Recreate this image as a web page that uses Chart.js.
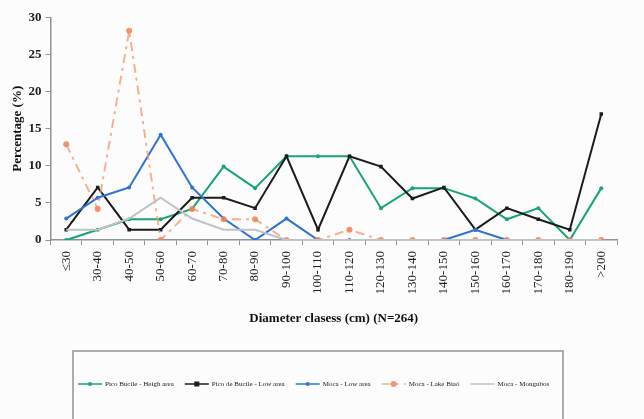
<!DOCTYPE html>
<html lang="en">
<head>
    <meta charset="UTF-8">
    <title>Diameter classes</title>
    <script src="https://cdn.jsdelivr.net/npm/chart.js@4.4.1/dist/chart.umd.min.js"></script>
    <style>
        html, body { margin: 0; padding: 0; background: #fcfcfd; }
        canvas { display: block; }
    </style>
</head>
<body>
    <canvas id="diamChart" width="644" height="419"></canvas>

    <script>
        // diameter classes (cm)
        const classes = ['≤30', '30-40', '40-50', '50-60', '60-70', '70-80', '80-90', '90-100', '100-110',
            '110-120', '120-130', '130-140', '140-150', '150-160', '160-170', '170-180', '180-190', '>200'];

        // percentage per class
        const picoHigh = [0, 1.4, 2.8, 2.8, 4.2, 9.9, 7.0, 11.3, 11.3, 11.3, 4.3, 7.0, 7.0, 5.6, 2.8, 4.3, 0, 7.0];
        const picoLow  = [1.4, 7.1, 1.4, 1.4, 5.7, 5.7, 4.3, 11.3, 1.4, 11.3, 9.9, 5.6, 7.1, 1.4, 4.3, 2.8, 1.4, 17.0];
        const mocaLow  = [2.9, 5.7, 7.1, 14.2, 7.1, 2.9, 0, 2.9, 0, 0, null, null, 0, 1.4, 0, null, null, null];
        const mocaLake = [12.9, 4.2, 28.2, 0, 4.2, 2.8, 2.8, 0, 0, 1.4, 0, 0, 0, 0, 0, 0, 0, 0];
        const mocaMong = [1.4, 1.4, 2.9, 5.7, 2.9, 1.4, 1.4, 0, 0, 0, 0, 0, 0, 0, 0, 0, 0, 0];

        const yTicks = [0, 5, 10, 15, 20, 25, 30];

        const serif = '"Liberation Serif", "Times New Roman", serif';

        // legend drawn inside a framed box under the chart, like the original
        const boxLegend = {
            id: 'boxLegend',
            afterDraw(chart) {
                const ctx = chart.ctx;
                ctx.save();
                ctx.strokeStyle = '#8d9398';
                ctx.lineWidth = 1.5;
                ctx.strokeRect(73, 351, 490, 80);

                ctx.font = '7px ' + serif;
                ctx.textBaseline = 'middle';
                let x = 78;
                const y = 384;
                chart.data.datasets.forEach(ds => {
                    ctx.strokeStyle = ds.borderColor;
                    ctx.lineWidth = 1.5;
                    ctx.setLineDash(ds.borderDash || []);
                    ctx.beginPath();
                    ctx.moveTo(x, y);
                    ctx.lineTo(x + 24, y);
                    ctx.stroke();
                    ctx.setLineDash([]);
                    if (ds.pointRadius > 0) {
                        ctx.fillStyle = ds.pointBackgroundColor;
                        const r = ds.pointRadius;
                        if (ds.pointStyle === 'rect') {
                            ctx.fillRect(x + 12 - r, y - r, 2 * r, 2 * r);
                        } else {
                            ctx.beginPath();
                            ctx.arc(x + 12, y, r, 0, Math.PI * 2);
                            ctx.fill();
                        }
                    }
                    ctx.fillStyle = '#222';
                    ctx.fillText(ds.label, x + 27, y);
                    x += 27 + ctx.measureText(ds.label).width + 11;
                });
                ctx.restore();
            }
        };

        const ctx = document.getElementById('diamChart').getContext('2d');
        new Chart(ctx, {
            type: 'line',
            data: {
                labels: classes,
                datasets: [
                    {
                        label: 'Pico Bucile - Heigh area',
                        data: picoHigh,
                        borderColor: '#17a672',
                        pointBackgroundColor: '#17a672',
                        pointBorderWidth: 0,
                        pointRadius: 2,
                        borderWidth: 2,
                        order: 5
                    },
                    {
                        label: 'Pico de Bucile - Low area',
                        data: picoLow,
                        borderColor: '#1c1c1c',
                        pointBackgroundColor: '#1c1c1c',
                        pointStyle: 'rect',
                        pointBorderWidth: 0,
                        pointRadius: 2.5,
                        borderWidth: 2,
                        order: 4
                    },
                    {
                        label: 'Moca - Low area',
                        data: mocaLow,
                        borderColor: '#2e73d1',
                        pointBackgroundColor: '#2e73d1',
                        pointBorderWidth: 0,
                        pointRadius: 2,
                        borderWidth: 2,
                        order: 3
                    },
                    {
                        label: 'Moca - Lake Biaó',
                        data: mocaLake,
                        borderColor: 'rgba(245, 150, 105, 0.75)',
                        pointBackgroundColor: 'rgba(242, 130, 85, 0.85)',
                        borderDash: [9, 5, 3, 5],
                        pointBorderWidth: 0,
                        pointRadius: 3,
                        borderWidth: 2,
                        order: 2
                    },
                    {
                        label: 'Moca - Mongubos',
                        data: mocaMong,
                        borderColor: '#bec3c6',
                        pointBackgroundColor: '#bec3c6',
                        pointRadius: 0,
                        borderWidth: 2,
                        order: 1
                    }
                ]
            },
            options: {
                responsive: false,
                animation: false,
                layout: {
                    padding: { top: 17.5, left: 11.5, right: 27, bottom: 93 }
                },
                plugins: {
                    legend: { display: false },
                    tooltip: { enabled: false }
                },
                elements: {
                    line: { tension: 0, spanGaps: false }
                },
                scales: {
                    x: {
                        offset: true,
                        grid: {
                            offset: true,
                            drawOnChartArea: false,
                            tickLength: 5,
                            color: '#8d9398'
                        },
                        border: { color: '#8d9398', width: 1.5 },
                        ticks: {
                            maxRotation: 90,
                            minRotation: 90,
                            padding: 6,
                            color: '#1e1e1e',
                            font: { family: serif, size: 13 }
                        },
                        title: {
                            display: true,
                            text: 'Diameter clasess (cm) (N=264)',
                            color: '#111',
                            font: { family: serif, size: 13, weight: 'bold' },
                            padding: { top: 10, bottom: 0 }
                        }
                    },
                    y: {
                        min: 0,
                        max: 30,
                        afterBuildTicks: axis => {
                            axis.ticks = yTicks.map(v => ({ value: v }));
                        },
                        grid: {
                            drawOnChartArea: false,
                            tickLength: 5,
                            color: '#8d9398'
                        },
                        border: { color: '#8d9398', width: 1.5 },
                        ticks: {
                            padding: 4,
                            color: '#1e1e1e',
                            font: { family: serif, size: 13, weight: 'bold' }
                        },
                        title: {
                            display: true,
                            text: 'Percentage (%)',
                            color: '#111',
                            font: { family: serif, size: 13, weight: 'bold', lineHeight: 1 },
                            padding: { top: 0, bottom: 0 }
                        }
                    }
                }
            },
            plugins: [boxLegend]
        });
    </script>
</body>
</html>
